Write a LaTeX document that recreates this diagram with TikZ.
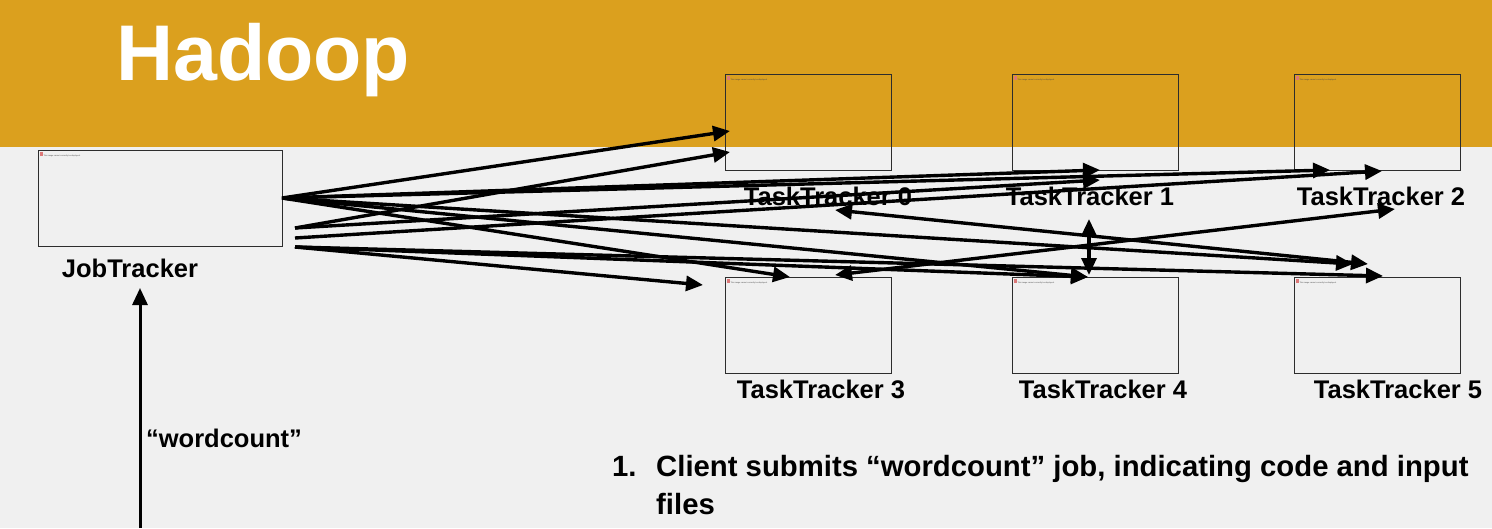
\documentclass[tikz,border=0pt]{standalone}
\usepackage{fontspec}
\setmainfont{Liberation Sans}
\usetikzlibrary{arrows.meta}
\definecolor{bandgold}{RGB}{219,160,30}
\definecolor{pagegray}{RGB}{240,240,240}
\definecolor{boxline}{RGB}{45,45,45}
\definecolor{iconred}{RGB}{220,120,120}
\begin{document}
\begin{tikzpicture}[x=1pt,y=-1pt,
  tbox/.style={draw=boxline, line width=1pt, inner sep=0pt, outer sep=0pt, anchor=north west, minimum width=166pt, minimum height=96pt},
  phtext/.style={anchor=north west, inner sep=0pt, font=\fontsize{2}{2.4}\selectfont, text=black!70},
  lbl/.style={font=\bfseries\fontsize{25.5}{30}\selectfont, anchor=base, inner sep=0pt},
  body/.style={font=\bfseries\fontsize{29.3}{34}\selectfont, anchor=base west, inner sep=0pt},
  arr/.style={line width=3.4pt, -{Triangle[length=17pt,width=15pt]}},
  darr/.style={line width=3.4pt, {Triangle[length=17pt,width=15pt]}-{Triangle[length=17pt,width=15pt]}},
]
\useasboundingbox (0,0) rectangle (1492,528);
\fill[pagegray] (0,0) rectangle (1492,528);
\fill[bandgold] (0,0) rectangle (1492,147);

% title
\node[anchor=base west, inner sep=0pt, text=white, font=\bfseries\fontsize{79}{90}\selectfont] (title) at (116,80) {Hadoop};

% boxes
\node[tbox, minimum width=244pt] (jt) at (38,150) {};
\node[tbox] (tt0) at (725,74) {};
\node[tbox] (tt1) at (1012,74) {};
\node[tbox] (tt2) at (1294,74) {};
\node[tbox] (tt3) at (725,277) {};
\node[tbox] (tt4) at (1012,277) {};
\node[tbox] (tt5) at (1294,277) {};

% placeholder texts
\foreach \b in {jt,tt0,tt1,tt2,tt3,tt4,tt5}{
  \node[phtext] (ph-\b) at ([xshift=2pt,yshift=-2pt]\b.north west) {\textcolor{iconred}{\rule{3pt}{4pt}}\,This image cannot currently be displayed.};
}

% labels
\node[lbl] (ljt) at (130,277) {JobTracker};
\node[lbl] (l0) at (828,205) {TaskTracker 0};
\node[lbl] (l1) at (1090,205) {TaskTracker 1};
\node[lbl] (l2) at (1381,205) {TaskTracker 2};
\node[lbl] (l3) at (821,398) {TaskTracker 3};
\node[lbl] (l4) at (1103,398) {TaskTracker 4};
\node[lbl] (l5) at (1398,398) {TaskTracker 5};
\node[lbl] (lwc) at (224,447) {“wordcount”};

% body text
\node[body] (num) at (612,476) {1.};
\node[body] (line1) at (656,476) {Client submits “wordcount” job, indicating code and input};
\node[body] (line2) at (656,514) {files};

% coordinates
\coordinate (B1) at (295,228);
\coordinate (B2) at (295,238);
\coordinate (B3) at (295,247);
\coordinate (e0a) at (730,131);
\coordinate (e0b) at (730,152);
\coordinate (e1a) at (1100,170);
\coordinate (e1b) at (1100,180);
\coordinate (e2a) at (1330,170);
\coordinate (e2b) at (1382,171);
\coordinate (e3a) at (790,277);
\coordinate (e3b) at (703,285);
\coordinate (e4) at (1088,277);
\coordinate (e5a) at (1353,264);
\coordinate (e5b) at (1383,276);
\coordinate (d05a) at (835,210);
\coordinate (d05b) at (1368,264);
\coordinate (d14a) at (1089,219);
\coordinate (d14b) at (1089,275);
\coordinate (d32a) at (835,275);
\coordinate (d32b) at (1395,209);
\coordinate (client) at (140,528);
\coordinate (jtin) at (140,288);

% arrows from JobTracker
\draw[arr] (jt.east) -- (e0a);
\draw[arr] (jt.east) -- (e1a);
\draw[arr] (jt.east) -- (e2a);
\draw[arr] (jt.east) -- (e3a);
\draw[arr] (jt.east) -- (e4);
\draw[arr] (jt.east) -- (e5a);
\draw[arr] (B1) -- (e0b);
\draw[arr] (B1) -- (e1b);
\draw[arr] (B2) -- (e2b);
\draw[arr] (B3) -- (e3b);
\draw[arr] (B3) -- (e4);
\draw[arr] (B3) -- (e5b);

% between task trackers
\draw[darr] (d05a) -- (d05b);
\draw[darr] (d14a) -- (d14b);
\draw[darr] (d32a) -- (d32b);

% client arrow
\draw[line width=3pt, -{Triangle[length=17pt,width=15pt]}] (client) -- (jtin);
\end{tikzpicture}
\end{document}
